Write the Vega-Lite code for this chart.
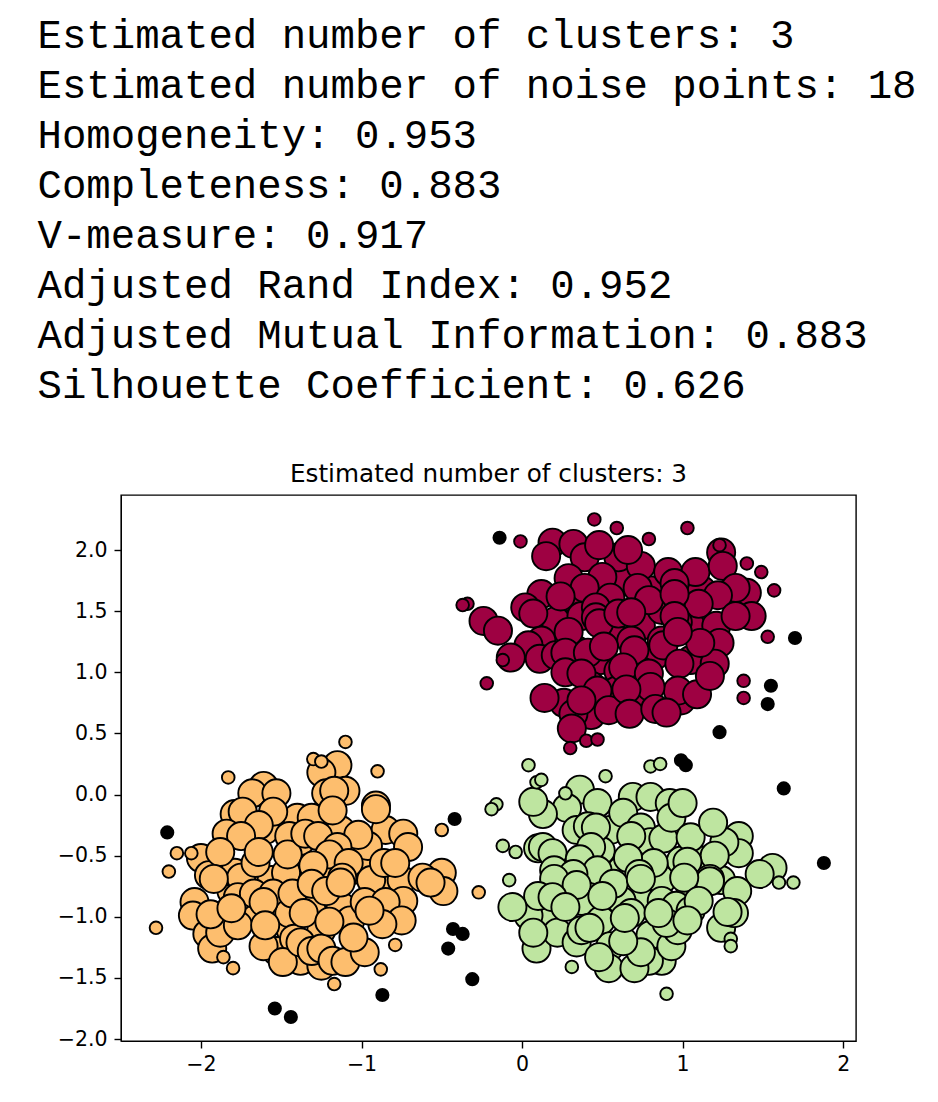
{
"$schema":"https://vega.github.io/schema/vega-lite/v6.json",
"background":"white",
"padding":{"left":37,"top":14,"right":0,"bottom":0},
"title":{"text":["Estimated number of clusters: 3","Estimated number of noise points: 18","Homogeneity: 0.953","Completeness: 0.883","V-measure: 0.917","Adjusted Rand Index: 0.952","Adjusted Mutual Information: 0.883","Silhouette Coefficient: 0.626"],"anchor":"start","frame":"bounds","font":"Liberation Mono","fontSize":40.7,"fontWeight":"normal","lineHeight":50,"color":"black","offset":55,"dx":-19},
"config":{"view":{"stroke":"black","strokeWidth":1.4}},
"vconcat":[{
"title":{"text":"Estimated number of clusters: 3","font":"DejaVu Sans","fontSize":24.7,"fontWeight":"normal","color":"black","offset":8},
"width":735,"height":546,
"data":{"values":[
{"x":0.34,"y":1.59,"cluster":"0","kind":"core"},{"x":0.49,"y":1.67,"cluster":"0","kind":"core"},{"x":0.65,"y":1.75,"cluster":"0","kind":"core"},{"x":0.80,"y":1.67,"cluster":"0","kind":"core"},{"x":0.96,"y":1.55,"cluster":"0","kind":"core"},{"x":1.12,"y":1.67,"cluster":"0","kind":"core"},{"x":0.21,"y":1.42,"cluster":"0","kind":"core"},{"x":0.37,"y":1.46,"cluster":"0","kind":"core"},{"x":0.55,"y":1.34,"cluster":"0","kind":"core"},{"x":0.74,"y":1.38,"cluster":"0","kind":"core"},{"x":0.87,"y":1.51,"cluster":"0","kind":"core"},{"x":1.05,"y":1.38,"cluster":"0","kind":"core"},{"x":1.21,"y":1.38,"cluster":"0","kind":"core"},{"x":0.12,"y":1.26,"cluster":"0","kind":"core"},{"x":0.34,"y":1.18,"cluster":"0","kind":"core"},{"x":0.49,"y":1.10,"cluster":"0","kind":"core"},{"x":0.68,"y":1.26,"cluster":"0","kind":"core"},{"x":0.83,"y":1.14,"cluster":"0","kind":"core"},{"x":1.05,"y":1.10,"cluster":"0","kind":"core"},{"x":0.43,"y":0.89,"cluster":"0","kind":"core"},{"x":0.55,"y":0.77,"cluster":"0","kind":"core"},{"x":0.74,"y":1.01,"cluster":"0","kind":"core"},{"x":0.87,"y":1.26,"cluster":"0","kind":"core"},{"x":0.43,"y":0.65,"cluster":"0","kind":"core"},{"x":0.74,"y":0.77,"cluster":"0","kind":"core"},{"x":0.99,"y":0.77,"cluster":"0","kind":"core"},
{"x":0.19,"y":2.06,"cluster":"0","kind":"core"},{"x":0.32,"y":2.05,"cluster":"0","kind":"core"},{"x":0.39,"y":1.94,"cluster":"0","kind":"core"},{"x":0.60,"y":1.94,"cluster":"0","kind":"core"},{"x":0.15,"y":1.95,"cluster":"0","kind":"core"},{"x":0.48,"y":2.04,"cluster":"0","kind":"core"},{"x":0.50,"y":1.78,"cluster":"0","kind":"core"},{"x":0.29,"y":1.77,"cluster":"0","kind":"core"},{"x":0.74,"y":1.87,"cluster":"0","kind":"core"},{"x":1.24,"y":1.98,"cluster":"0","kind":"core"},{"x":0.91,"y":1.82,"cluster":"0","kind":"core"},{"x":1.08,"y":1.82,"cluster":"0","kind":"core"},{"x":1.25,"y":1.87,"cluster":"0","kind":"core"},{"x":0.66,"y":2.00,"cluster":"0","kind":"core"},{"x":0.95,"y":1.73,"cluster":"0","kind":"core"},{"x":0.72,"y":1.69,"cluster":"0","kind":"core"},{"x":0.12,"y":1.64,"cluster":"0","kind":"core"},{"x":0.39,"y":1.69,"cluster":"0","kind":"core"},{"x":1.40,"y":1.65,"cluster":"0","kind":"core"},{"x":1.33,"y":1.69,"cluster":"0","kind":"core"},{"x":1.22,"y":1.63,"cluster":"0","kind":"core"},{"x":1.10,"y":1.56,"cluster":"0","kind":"core"},{"x":1.43,"y":1.46,"cluster":"0","kind":"core"},{"x":0.02,"y":1.53,"cluster":"0","kind":"core"},{"x":-0.24,"y":1.42,"cluster":"0","kind":"core"},{"x":-0.15,"y":1.34,"cluster":"0","kind":"core"},{"x":0.55,"y":1.61,"cluster":"0","kind":"core"},{"x":0.46,"y":1.53,"cluster":"0","kind":"core"},{"x":0.46,"y":1.45,"cluster":"0","kind":"core"},{"x":0.48,"y":1.40,"cluster":"0","kind":"core"},{"x":0.79,"y":1.59,"cluster":"0","kind":"core"},{"x":0.60,"y":1.48,"cluster":"0","kind":"core"},{"x":0.24,"y":1.62,"cluster":"0","kind":"core"},{"x":0.07,"y":1.48,"cluster":"0","kind":"core"},{"x":0.29,"y":1.33,"cluster":"0","kind":"core"},{"x":0.95,"y":1.64,"cluster":"0","kind":"core"},{"x":0.97,"y":1.41,"cluster":"0","kind":"core"},{"x":0.95,"y":1.46,"cluster":"0","kind":"core"},{"x":0.68,"y":1.49,"cluster":"0","kind":"core"},{"x":1.33,"y":1.46,"cluster":"0","kind":"core"},
{"x":0.04,"y":1.22,"cluster":"0","kind":"core"},{"x":-0.07,"y":1.12,"cluster":"0","kind":"core"},{"x":0.11,"y":1.11,"cluster":"0","kind":"core"},{"x":0.21,"y":1.14,"cluster":"0","kind":"core"},{"x":0.27,"y":1.16,"cluster":"0","kind":"core"},{"x":0.41,"y":1.16,"cluster":"0","kind":"core"},{"x":0.51,"y":1.21,"cluster":"0","kind":"core"},{"x":0.60,"y":1.01,"cluster":"0","kind":"core"},{"x":0.27,"y":1.00,"cluster":"0","kind":"core"},{"x":0.37,"y":0.99,"cluster":"0","kind":"core"},{"x":0.26,"y":0.75,"cluster":"0","kind":"core"},{"x":0.59,"y":0.85,"cluster":"0","kind":"core"},{"x":0.47,"y":0.85,"cluster":"0","kind":"core"},{"x":0.54,"y":0.69,"cluster":"0","kind":"core"},{"x":0.32,"y":0.66,"cluster":"0","kind":"core"},{"x":0.14,"y":0.79,"cluster":"0","kind":"core"},{"x":0.37,"y":0.77,"cluster":"0","kind":"core"},{"x":0.31,"y":0.54,"cluster":"0","kind":"core"},{"x":1.23,"y":1.24,"cluster":"0","kind":"core"},{"x":1.20,"y":1.07,"cluster":"0","kind":"core"},{"x":0.70,"y":1.18,"cluster":"0","kind":"core"},{"x":0.63,"y":1.04,"cluster":"0","kind":"core"},{"x":0.88,"y":1.22,"cluster":"0","kind":"core"},{"x":1.11,"y":1.24,"cluster":"0","kind":"core"},{"x":0.97,"y":1.33,"cluster":"0","kind":"core"},{"x":0.98,"y":1.07,"cluster":"0","kind":"core"},{"x":0.79,"y":0.99,"cluster":"0","kind":"core"},{"x":0.97,"y":0.85,"cluster":"0","kind":"core"},{"x":1.09,"y":0.82,"cluster":"0","kind":"core"},{"x":1.17,"y":0.97,"cluster":"0","kind":"core"},{"x":0.80,"y":0.88,"cluster":"0","kind":"core"},{"x":0.65,"y":0.86,"cluster":"0","kind":"core"},{"x":0.67,"y":0.66,"cluster":"0","kind":"core"},{"x":0.83,"y":0.70,"cluster":"0","kind":"core"},{"x":0.90,"y":0.67,"cluster":"0","kind":"core"},
{"x":-0.01,"y":2.07,"cluster":"0","kind":"border"},{"x":0.45,"y":2.25,"cluster":"0","kind":"border"},{"x":0.59,"y":2.18,"cluster":"0","kind":"border"},{"x":-0.34,"y":1.56,"cluster":"0","kind":"border"},{"x":-0.37,"y":1.55,"cluster":"0","kind":"border"},{"x":0.79,"y":2.09,"cluster":"0","kind":"border"},{"x":1.03,"y":2.18,"cluster":"0","kind":"border"},{"x":1.23,"y":2.04,"cluster":"0","kind":"border"},{"x":1.40,"y":1.89,"cluster":"0","kind":"border"},{"x":1.49,"y":1.82,"cluster":"0","kind":"border"},{"x":1.57,"y":1.67,"cluster":"0","kind":"border"},{"x":-0.12,"y":1.10,"cluster":"0","kind":"border"},{"x":-0.22,"y":0.91,"cluster":"0","kind":"border"},{"x":0.30,"y":0.38,"cluster":"0","kind":"border"},{"x":0.40,"y":0.44,"cluster":"0","kind":"border"},{"x":0.47,"y":0.45,"cluster":"0","kind":"border"},{"x":1.53,"y":1.29,"cluster":"0","kind":"border"},{"x":1.38,"y":0.93,"cluster":"0","kind":"border"},{"x":1.38,"y":0.79,"cluster":"0","kind":"border"},
{"x":0.55,"y":-0.29,"cluster":"1","kind":"core"},{"x":0.49,"y":-0.46,"cluster":"1","kind":"core"},{"x":0.62,"y":-0.62,"cluster":"1","kind":"core"},{"x":0.49,"y":-0.79,"cluster":"1","kind":"core"},{"x":0.74,"y":-0.46,"cluster":"1","kind":"core"},{"x":0.87,"y":-0.70,"cluster":"1","kind":"core"},{"x":0.74,"y":-0.87,"cluster":"1","kind":"core"},{"x":0.62,"y":-0.87,"cluster":"1","kind":"core"},{"x":0.37,"y":-0.87,"cluster":"1","kind":"core"},{"x":0.24,"y":-0.70,"cluster":"1","kind":"core"},{"x":0.37,"y":-0.70,"cluster":"1","kind":"core"},{"x":0.18,"y":-1.03,"cluster":"1","kind":"core"},{"x":0.49,"y":-1.03,"cluster":"1","kind":"core"},{"x":0.80,"y":-1.15,"cluster":"1","kind":"core"},{"x":0.55,"y":-1.24,"cluster":"1","kind":"core"},{"x":0.99,"y":-0.54,"cluster":"1","kind":"core"},{"x":1.12,"y":-0.54,"cluster":"1","kind":"core"},{"x":1.05,"y":-0.79,"cluster":"1","kind":"core"},{"x":0.87,"y":-0.87,"cluster":"1","kind":"core"},{"x":1.24,"y":-0.70,"cluster":"1","kind":"core"},{"x":0.96,"y":-0.91,"cluster":"1","kind":"core"},{"x":0.04,"y":-0.99,"cluster":"1","kind":"core"},{"x":1.05,"y":-0.95,"cluster":"1","kind":"core"},
{"x":0.36,"y":0.04,"cluster":"1","kind":"core"},{"x":0.47,"y":-0.07,"cluster":"1","kind":"core"},{"x":0.28,"y":-0.11,"cluster":"1","kind":"core"},{"x":0.13,"y":-0.16,"cluster":"1","kind":"core"},{"x":0.07,"y":-0.06,"cluster":"1","kind":"core"},{"x":0.69,"y":-0.02,"cluster":"1","kind":"core"},{"x":0.80,"y":-0.02,"cluster":"1","kind":"core"},{"x":0.92,"y":-0.07,"cluster":"1","kind":"core"},{"x":0.63,"y":-0.15,"cluster":"1","kind":"core"},{"x":0.34,"y":-0.29,"cluster":"1","kind":"core"},{"x":0.41,"y":-0.26,"cluster":"1","kind":"core"},{"x":0.46,"y":-0.27,"cluster":"1","kind":"core"},{"x":0.74,"y":-0.27,"cluster":"1","kind":"core"},{"x":0.80,"y":-0.39,"cluster":"1","kind":"core"},{"x":0.88,"y":-0.36,"cluster":"1","kind":"core"},{"x":0.68,"y":-0.34,"cluster":"1","kind":"core"},{"x":0.82,"y":-0.56,"cluster":"1","kind":"core"},{"x":0.10,"y":-0.44,"cluster":"1","kind":"core"},{"x":0.13,"y":-0.43,"cluster":"1","kind":"core"},{"x":0.19,"y":-0.48,"cluster":"1","kind":"core"},{"x":0.43,"y":-0.43,"cluster":"1","kind":"core"},{"x":0.36,"y":-0.53,"cluster":"1","kind":"core"},{"x":0.66,"y":-0.52,"cluster":"1","kind":"core"},{"x":0.47,"y":-0.62,"cluster":"1","kind":"core"},{"x":0.20,"y":-0.62,"cluster":"1","kind":"core"},{"x":0.73,"y":-0.65,"cluster":"1","kind":"core"},{"x":0.32,"y":-0.65,"cluster":"1","kind":"core"},{"x":0.93,"y":-0.19,"cluster":"1","kind":"core"},{"x":1.00,"y":-0.07,"cluster":"1","kind":"core"},{"x":1.05,"y":-0.35,"cluster":"1","kind":"core"},{"x":1.35,"y":-0.34,"cluster":"1","kind":"core"},{"x":1.35,"y":-0.48,"cluster":"1","kind":"core"},{"x":1.26,"y":-0.39,"cluster":"1","kind":"core"},{"x":1.20,"y":-0.50,"cluster":"1","kind":"core"},{"x":1.19,"y":-0.23,"cluster":"1","kind":"core"},{"x":1.03,"y":-0.55,"cluster":"1","kind":"core"},{"x":1.17,"y":-0.69,"cluster":"1","kind":"core"},{"x":1.56,"y":-0.60,"cluster":"1","kind":"core"},{"x":1.48,"y":-0.65,"cluster":"1","kind":"core"},{"x":1.34,"y":-0.79,"cluster":"1","kind":"core"},{"x":1.17,"y":-0.71,"cluster":"1","kind":"core"},{"x":0.20,"y":-0.69,"cluster":"1","kind":"core"},{"x":0.34,"y":-0.74,"cluster":"1","kind":"core"},{"x":0.57,"y":-0.73,"cluster":"1","kind":"core"},{"x":0.74,"y":-0.69,"cluster":"1","kind":"core"},{"x":1.01,"y":-0.68,"cluster":"1","kind":"core"},{"x":1.10,"y":-0.87,"cluster":"1","kind":"core"},{"x":0.10,"y":-0.83,"cluster":"1","kind":"core"},{"x":0.19,"y":-0.84,"cluster":"1","kind":"core"},{"x":0.09,"y":-1.26,"cluster":"1","kind":"core"},{"x":0.22,"y":-1.13,"cluster":"1","kind":"core"},{"x":0.34,"y":-1.21,"cluster":"1","kind":"core"},{"x":0.37,"y":-1.11,"cluster":"1","kind":"core"},{"x":0.87,"y":-1.36,"cluster":"1","kind":"core"},{"x":0.79,"y":-1.36,"cluster":"1","kind":"core"},{"x":0.93,"y":-1.24,"cluster":"1","kind":"core"},{"x":0.97,"y":-1.11,"cluster":"1","kind":"core"},{"x":0.90,"y":-1.05,"cluster":"1","kind":"core"},{"x":1.03,"y":-1.03,"cluster":"1","kind":"core"},{"x":0.68,"y":-0.97,"cluster":"1","kind":"core"},{"x":1.24,"y":-1.09,"cluster":"1","kind":"core"},{"x":1.32,"y":-0.97,"cluster":"1","kind":"core"},{"x":0.54,"y":-1.42,"cluster":"1","kind":"core"},{"x":0.70,"y":-1.42,"cluster":"1","kind":"core"},{"x":0.74,"y":-1.29,"cluster":"1","kind":"core"},{"x":0.48,"y":-1.33,"cluster":"1","kind":"core"},{"x":0.63,"y":-1.20,"cluster":"1","kind":"core"},{"x":0.64,"y":-1.01,"cluster":"1","kind":"core"},{"x":0.42,"y":-1.09,"cluster":"1","kind":"core"},{"x":0.50,"y":-0.83,"cluster":"1","kind":"core"},{"x":0.27,"y":-0.92,"cluster":"1","kind":"core"},{"x":0.07,"y":-1.13,"cluster":"1","kind":"core"},{"x":-0.06,"y":-0.92,"cluster":"1","kind":"core"},{"x":0.85,"y":-0.97,"cluster":"1","kind":"core"},{"x":1.28,"y":-0.96,"cluster":"1","kind":"core"},
{"x":0.04,"y":0.24,"cluster":"1","kind":"border"},{"x":0.09,"y":0.10,"cluster":"1","kind":"border"},{"x":0.12,"y":0.12,"cluster":"1","kind":"border"},{"x":0.27,"y":0.01,"cluster":"1","kind":"border"},{"x":0.52,"y":0.15,"cluster":"1","kind":"border"},{"x":0.80,"y":0.23,"cluster":"1","kind":"border"},{"x":0.86,"y":0.25,"cluster":"1","kind":"border"},{"x":-0.16,"y":-0.08,"cluster":"1","kind":"border"},{"x":-0.19,"y":-0.12,"cluster":"1","kind":"border"},{"x":-0.12,"y":-0.42,"cluster":"1","kind":"border"},{"x":-0.04,"y":-0.47,"cluster":"1","kind":"border"},{"x":-0.08,"y":-0.70,"cluster":"1","kind":"border"},{"x":0.31,"y":-1.41,"cluster":"1","kind":"border"},{"x":1.30,"y":-1.18,"cluster":"1","kind":"border"},{"x":1.30,"y":-1.24,"cluster":"1","kind":"border"},{"x":0.90,"y":-1.63,"cluster":"1","kind":"border"},{"x":1.60,"y":-0.72,"cluster":"1","kind":"border"},{"x":1.69,"y":-0.72,"cluster":"1","kind":"border"},
{"x":-1.69,"y":-0.62,"cluster":"2","kind":"core"},{"x":-1.56,"y":-0.70,"cluster":"2","kind":"core"},{"x":-1.38,"y":-0.54,"cluster":"2","kind":"core"},{"x":-1.25,"y":-0.66,"cluster":"2","kind":"core"},{"x":-1.07,"y":-0.46,"cluster":"2","kind":"core"},{"x":-1.00,"y":-0.62,"cluster":"2","kind":"core"},{"x":-0.88,"y":-0.70,"cluster":"2","kind":"core"},{"x":-1.50,"y":-0.95,"cluster":"2","kind":"core"},{"x":-1.31,"y":-0.95,"cluster":"2","kind":"core"},{"x":-1.13,"y":-0.91,"cluster":"2","kind":"core"},{"x":-1.66,"y":-0.99,"cluster":"2","kind":"core"},{"x":-1.44,"y":-1.11,"cluster":"2","kind":"core"},{"x":-1.25,"y":-1.11,"cluster":"2","kind":"core"},{"x":-1.07,"y":-1.03,"cluster":"2","kind":"core"},{"x":-1.53,"y":-1.28,"cluster":"2","kind":"core"},{"x":-1.38,"y":-1.36,"cluster":"2","kind":"core"},{"x":-1.25,"y":-1.40,"cluster":"2","kind":"core"},{"x":-0.94,"y":-0.70,"cluster":"2","kind":"core"},{"x":-0.75,"y":-0.70,"cluster":"2","kind":"core"},{"x":-1.81,"y":-0.79,"cluster":"2","kind":"core"},{"x":-1.13,"y":-0.29,"cluster":"2","kind":"core"},{"x":-1.38,"y":-0.38,"cluster":"2","kind":"core"},{"x":-1.60,"y":-0.29,"cluster":"2","kind":"core"},{"x":-0.85,"y":-0.29,"cluster":"2","kind":"core"},
{"x":-1.61,"y":0.07,"cluster":"2","kind":"core"},{"x":-1.68,"y":0.01,"cluster":"2","kind":"core"},{"x":-1.53,"y":0.01,"cluster":"2","kind":"core"},{"x":-1.79,"y":-0.16,"cluster":"2","kind":"core"},{"x":-1.74,"y":-0.14,"cluster":"2","kind":"core"},{"x":-1.40,"y":-0.19,"cluster":"2","kind":"core"},{"x":-1.55,"y":-0.14,"cluster":"2","kind":"core"},{"x":-1.64,"y":-0.25,"cluster":"2","kind":"core"},{"x":-1.84,"y":-0.32,"cluster":"2","kind":"core"},{"x":-1.75,"y":-0.34,"cluster":"2","kind":"core"},{"x":-1.45,"y":-0.34,"cluster":"2","kind":"core"},{"x":-2.00,"y":-0.52,"cluster":"2","kind":"core"},{"x":-1.95,"y":-0.66,"cluster":"2","kind":"core"},{"x":-1.79,"y":-0.64,"cluster":"2","kind":"core"},{"x":-1.75,"y":-0.68,"cluster":"2","kind":"core"},{"x":-1.47,"y":-0.64,"cluster":"2","kind":"core"},{"x":-1.66,"y":-0.56,"cluster":"2","kind":"core"},{"x":-1.88,"y":-0.47,"cluster":"2","kind":"core"},{"x":-1.64,"y":-0.47,"cluster":"2","kind":"core"},{"x":-1.46,"y":-0.49,"cluster":"2","kind":"core"},{"x":-1.15,"y":0.24,"cluster":"2","kind":"core"},{"x":-1.25,"y":0.18,"cluster":"2","kind":"core"},{"x":-1.10,"y":0.03,"cluster":"2","kind":"core"},{"x":-1.22,"y":0.01,"cluster":"2","kind":"core"},{"x":-1.17,"y":0.03,"cluster":"2","kind":"core"},{"x":-1.31,"y":-0.19,"cluster":"2","kind":"core"},{"x":-1.18,"y":-0.13,"cluster":"2","kind":"core"},{"x":-0.91,"y":-0.09,"cluster":"2","kind":"core"},{"x":-0.91,"y":-0.12,"cluster":"2","kind":"core"},{"x":-1.35,"y":-0.32,"cluster":"2","kind":"core"},{"x":-1.27,"y":-0.34,"cluster":"2","kind":"core"},{"x":-0.96,"y":-0.42,"cluster":"2","kind":"core"},{"x":-1.02,"y":-0.33,"cluster":"2","kind":"core"},{"x":-1.15,"y":-0.43,"cluster":"2","kind":"core"},{"x":-1.20,"y":-0.49,"cluster":"2","kind":"core"},{"x":-0.74,"y":-0.32,"cluster":"2","kind":"core"},{"x":-0.71,"y":-0.43,"cluster":"2","kind":"core"},{"x":-0.86,"y":-0.56,"cluster":"2","kind":"core"},{"x":-0.79,"y":-0.56,"cluster":"2","kind":"core"},{"x":-1.08,"y":-0.56,"cluster":"2","kind":"core"},{"x":-1.30,"y":-0.58,"cluster":"2","kind":"core"},{"x":-1.12,"y":-0.68,"cluster":"2","kind":"core"},{"x":-0.50,"y":-0.64,"cluster":"2","kind":"core"},{"x":-0.62,"y":-0.68,"cluster":"2","kind":"core"},{"x":-0.49,"y":-0.79,"cluster":"2","kind":"core"},{"x":-1.92,"y":-0.69,"cluster":"2","kind":"core"},{"x":-2.04,"y":-0.88,"cluster":"2","kind":"core"},{"x":-2.05,"y":-0.99,"cluster":"2","kind":"core"},{"x":-1.96,"y":-1.14,"cluster":"2","kind":"core"},{"x":-1.93,"y":-1.26,"cluster":"2","kind":"core"},{"x":-1.88,"y":-1.13,"cluster":"2","kind":"core"},{"x":-1.77,"y":-1.07,"cluster":"2","kind":"core"},{"x":-1.77,"y":-0.84,"cluster":"2","kind":"core"},{"x":-1.67,"y":-0.81,"cluster":"2","kind":"core"},{"x":-1.55,"y":-0.81,"cluster":"2","kind":"core"},{"x":-1.45,"y":-0.97,"cluster":"2","kind":"core"},{"x":-1.42,"y":-1.18,"cluster":"2","kind":"core"},{"x":-1.61,"y":-1.24,"cluster":"2","kind":"core"},{"x":-1.94,"y":-0.98,"cluster":"2","kind":"core"},{"x":-1.81,"y":-0.93,"cluster":"2","kind":"core"},{"x":-1.61,"y":-0.88,"cluster":"2","kind":"core"},{"x":-1.60,"y":-1.07,"cluster":"2","kind":"core"},{"x":-1.49,"y":-1.37,"cluster":"2","kind":"core"},{"x":-1.43,"y":-0.81,"cluster":"2","kind":"core"},{"x":-1.31,"y":-0.73,"cluster":"2","kind":"core"},{"x":-1.22,"y":-0.79,"cluster":"2","kind":"core"},{"x":-0.74,"y":-0.87,"cluster":"2","kind":"core"},{"x":-0.98,"y":-0.88,"cluster":"2","kind":"core"},{"x":-0.85,"y":-0.88,"cluster":"2","kind":"core"},{"x":-0.75,"y":-1.03,"cluster":"2","kind":"core"},{"x":-0.87,"y":-1.06,"cluster":"2","kind":"core"},{"x":-1.36,"y":-0.97,"cluster":"2","kind":"core"},{"x":-1.38,"y":-1.21,"cluster":"2","kind":"core"},{"x":-1.31,"y":-1.28,"cluster":"2","kind":"core"},{"x":-1.25,"y":-1.26,"cluster":"2","kind":"core"},{"x":-1.18,"y":-1.36,"cluster":"2","kind":"core"},{"x":-1.10,"y":-1.37,"cluster":"2","kind":"core"},{"x":-0.98,"y":-1.29,"cluster":"2","kind":"core"},{"x":-1.13,"y":-0.72,"cluster":"2","kind":"core"},{"x":-0.95,"y":-0.95,"cluster":"2","kind":"core"},{"x":-1.20,"y":-1.04,"cluster":"2","kind":"core"},{"x":-1.05,"y":-1.17,"cluster":"2","kind":"core"},{"x":-0.57,"y":-0.72,"cluster":"2","kind":"core"},
{"x":-1.83,"y":0.14,"cluster":"2","kind":"border"},{"x":-2.15,"y":-0.48,"cluster":"2","kind":"border"},{"x":-2.06,"y":-0.48,"cluster":"2","kind":"border"},{"x":-2.20,"y":-0.63,"cluster":"2","kind":"border"},{"x":-1.10,"y":0.43,"cluster":"2","kind":"border"},{"x":-1.30,"y":0.29,"cluster":"2","kind":"border"},{"x":-1.25,"y":0.27,"cluster":"2","kind":"border"},{"x":-0.90,"y":0.19,"cluster":"2","kind":"border"},{"x":-0.50,"y":-0.29,"cluster":"2","kind":"border"},{"x":-2.28,"y":-1.09,"cluster":"2","kind":"border"},{"x":-1.86,"y":-1.33,"cluster":"2","kind":"border"},{"x":-1.80,"y":-1.42,"cluster":"2","kind":"border"},{"x":-0.27,"y":-0.80,"cluster":"2","kind":"border"},{"x":-0.79,"y":-1.23,"cluster":"2","kind":"border"},{"x":-0.88,"y":-1.43,"cluster":"2","kind":"border"},{"x":-1.17,"y":-1.55,"cluster":"2","kind":"border"},
{"x":-0.14,"y":2.10,"cluster":"-1","kind":"noise"},{"x":1.70,"y":1.28,"cluster":"-1","kind":"noise"},{"x":1.55,"y":0.89,"cluster":"-1","kind":"noise"},{"x":1.53,"y":0.74,"cluster":"-1","kind":"noise"},{"x":1.23,"y":0.51,"cluster":"-1","kind":"noise"},{"x":0.99,"y":0.28,"cluster":"-1","kind":"noise"},{"x":1.02,"y":0.24,"cluster":"-1","kind":"noise"},{"x":1.63,"y":0.05,"cluster":"-1","kind":"noise"},{"x":1.88,"y":-0.56,"cluster":"-1","kind":"noise"},{"x":-2.21,"y":-0.31,"cluster":"-1","kind":"noise"},{"x":-0.42,"y":-0.20,"cluster":"-1","kind":"noise"},{"x":-0.43,"y":-1.10,"cluster":"-1","kind":"noise"},{"x":-0.37,"y":-1.14,"cluster":"-1","kind":"noise"},{"x":-0.46,"y":-1.26,"cluster":"-1","kind":"noise"},{"x":-0.31,"y":-1.51,"cluster":"-1","kind":"noise"},{"x":-0.87,"y":-1.64,"cluster":"-1","kind":"noise"},{"x":-1.54,"y":-1.75,"cluster":"-1","kind":"noise"},{"x":-1.44,"y":-1.82,"cluster":"-1","kind":"noise"}
]},
"mark":{"type":"point","shape":"circle","filled":true,"opacity":1,"stroke":"black","strokeWidth":1.9},
"encoding":{
"x":{"field":"x","type":"quantitative","title":null,"scale":{"domain":[-2.498,2.08],"nice":false,"zero":false},"axis":{"values":[-2,-1,0,1,2],"format":"d","grid":false,"domainColor":"black","tickColor":"black","tickSize":7,"tickWidth":1.4,"labelColor":"black","labelFont":"DejaVu Sans","labelFontSize":20.5,"labelPadding":6}},
"y":{"field":"y","type":"quantitative","title":null,"scale":{"domain":[-2.016,2.45],"nice":false,"zero":false},"axis":{"values":[-2,-1.5,-1,-0.5,0,0.5,1,1.5,2],"format":".1f","grid":false,"domainColor":"black","tickColor":"black","tickSize":7,"tickWidth":1.4,"labelColor":"black","labelFont":"DejaVu Sans","labelFontSize":20.5,"labelPadding":7}},
"color":{"field":"cluster","type":"nominal","legend":null,"scale":{"domain":["0","1","2","-1"],"range":["#9e0142","#bee5a0","#fdbe6e","#000000"]}},
"size":{"field":"kind","type":"nominal","legend":null,"scale":{"type":"ordinal","domain":["core","border","noise"],"range":[790,160,150]}}
}
}]
}
